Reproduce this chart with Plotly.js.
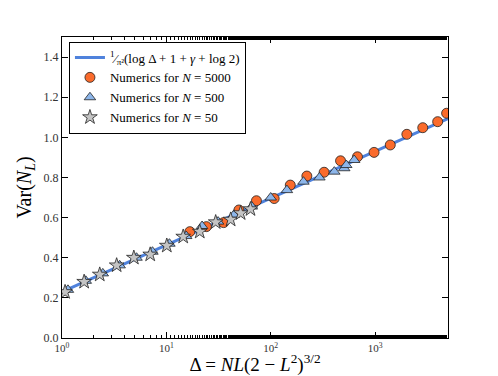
<!DOCTYPE html>
<html>
<head>
<meta charset="utf-8">
<script src="https://cdn.plot.ly/plotly-3.0.1.min.js"></script>
<style>
  html, body { margin: 0; padding: 0; background: #fff; }
  #graph-canvas { width: 498px; height: 376px; }
</style>
</head>
<body>
<div id="graph-canvas"></div>
<script>
// theory line (1/pi^2)(log D + 1 + gamma + log 2), read at a few points
var lineX = [1, 10, 100, 1000, 5000];
var lineY = [0.230, 0.463, 0.697, 0.930, 1.093];

// N = 5000
var n5000X = [16.8, 24.2, 35.4, 49.6, 73, 108, 154, 222, 325, 467, 678, 978, 1399, 2017, 2865, 3981, 4850];
var n5000Y = [0.530, 0.555, 0.575, 0.638, 0.684, 0.695, 0.762, 0.807, 0.826, 0.883, 0.903, 0.925, 0.962, 1.015, 1.048, 1.078, 1.120];

// N = 500
var n500X = [1.14, 1.69, 2.46, 3.57, 5.18, 7.36, 10.7, 15.5, 22.0, 31.3, 44.4, 65.9, 100, 143, 206, 293, 407, 507, 530, 631];
var n500Y = [0.240, 0.285, 0.322, 0.362, 0.400, 0.430, 0.470, 0.508, 0.558, 0.580, 0.614, 0.655, 0.700, 0.737, 0.779, 0.800, 0.829, 0.846, 0.862, 0.887];

// N = 50
var n50X = [1.07, 1.63, 2.30, 3.34, 4.88, 7.0, 10.1, 14.5, 20.9, 29.7, 41.3, 51.5, 64];
var n50Y = [0.229, 0.280, 0.316, 0.362, 0.400, 0.416, 0.460, 0.505, 0.530, 0.577, 0.590, 0.622, 0.642];

var xTicks = [1, 10, 100, 1000];
var xTickText = ['10<sup>0</sup>', '10<sup>1</sup>', '10<sup>2</sup>', '10<sup>3</sup>'];
var yTicks = [0, 0.2, 0.4, 0.6, 0.8, 1.0, 1.2, 1.4];
var yTickText = ['0.0', '0.2', '0.4', '0.6', '0.8', '1.0', '1.2', '1.4'];

var serif = "'Liberation Serif', 'DejaVu Serif', serif";

var data = [
    {
        name: '<sup>1</sup>⁄<sub>π²</sub>(log Δ + 1 + <i>γ</i> + log 2)',
        type: 'scatter',
        mode: 'lines',
        x: lineX,
        y: lineY,
        line: { color: '#4f82dc', width: 3 }
    },
    {
        name: 'Numerics for <i>N</i> = 5000',
        type: 'scatter',
        mode: 'markers',
        x: n5000X,
        y: n5000Y,
        marker: { symbol: 'circle', size: 10, color: '#fa6b2c', line: { color: '#222', width: 0.8 } }
    },
    {
        name: 'Numerics for <i>N</i> = 500',
        type: 'scatter',
        mode: 'markers',
        x: n500X,
        y: n500Y,
        marker: { symbol: 'triangle-up', size: 10, color: '#8db6ea', line: { color: '#222', width: 0.8 } }
    },
    {
        name: 'Numerics for <i>N</i> = 50',
        type: 'scatter',
        mode: 'markers',
        x: n50X,
        y: n50Y,
        marker: { symbol: 'star', size: 11, color: '#c4c4c4', line: { color: '#222', width: 0.8 } }
    }
];

var layout = {
    width: 498,
    height: 376,
    margin: { l: 62, r: 50, t: 37, b: 38 },
    paper_bgcolor: '#fff',
    plot_bgcolor: '#fff',
    font: { family: serif, color: '#222', size: 12 },
    showlegend: true,
    legend: {
        x: 0.018, y: 0.985, xanchor: 'left', yanchor: 'top',
        bgcolor: '#fff', bordercolor: '#000', borderwidth: 1,
        font: { family: serif, size: 13, color: '#000' },
        tracegroupgap: 0
    },
    xaxis: {
        type: 'log',
        range: [0, Math.log10(5000)],
        tickvals: xTicks,
        ticktext: xTickText,
        ticks: 'inside',
        ticklen: 6,
        tickcolor: '#000',
        ticklabelstandoff: 0,
        minor: { ticks: 'inside', ticklen: 3, tickcolor: '#000', showgrid: false },
        showline: true, linecolor: '#000', linewidth: 1, mirror: 'ticks',
        showgrid: false, zeroline: false,
        tickfont: { family: serif, size: 11, color: '#333' },
        title: { text: 'Δ = <i>NL</i>(2 − <i>L</i><sup>2</sup>)<sup>3/2</sup>', font: { family: serif, size: 19, color: '#000' }, standoff: 1 }
    },
    yaxis: {
        range: [0, 1.5],
        tickvals: yTicks,
        ticktext: yTickText,
        ticks: 'inside',
        ticklen: 6,
        tickcolor: '#000',
        showline: true, linecolor: '#000', linewidth: 1, mirror: 'ticks',
        showgrid: false, zeroline: false,
        tickfont: { family: serif, size: 12, color: '#333' },
        title: { text: 'Var(<i>N</i><sub><i>L</i></sub>)', font: { family: serif, size: 20, color: '#000' }, standoff: 6 }
    }
};

Plotly.newPlot('graph-canvas', data, layout, { displayModeBar: false, staticPlot: true });
</script>
</body>
</html>
